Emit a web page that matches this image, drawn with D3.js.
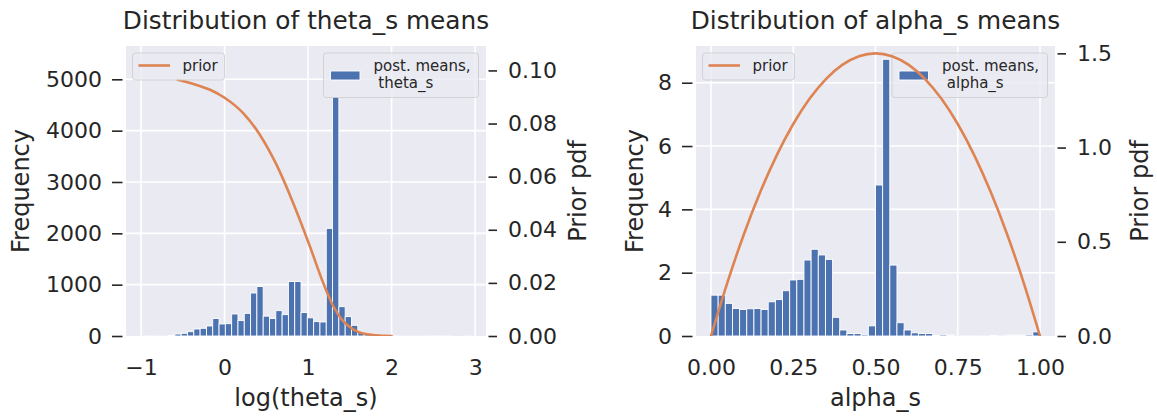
<!DOCTYPE html>
<html>
<head>
<meta charset="utf-8">
<script src="https://cdn.jsdelivr.net/npm/d3@7"></script>
<style>
  body { margin: 0; background: #ffffff; }
  svg { display: block; }
  text { font-family: "DejaVu Sans", sans-serif; fill: #262626; }
</style>
</head>
<body>
<svg id="chart" width="1157" height="418"></svg>
<script>
// ---- theta_s : histogram of posterior means on log scale (counts) ----
const thetaRange = [-0.972, 2.954];
const thetaCounts = [
  1, 1, 2, 5, 13, 39, 52, 84, 136, 150,
  195, 340, 234, 240, 429, 300, 441, 838, 965, 387,
  340, 494, 416, 1062, 1062, 458, 354, 280, 273, 2097,
  4660, 571, 377, 208, 65, 52, 39, 20, 12, 8,
  6, 4, 3, 2, 2, 1, 1, 1, 1, 0,
  0, 1
];
// prior pdf on the twin axis
const thetaPriorX   = [-0.56, -0.38, -0.18, 0.0, 0.22, 0.42, 0.62, 0.82, 1.02, 1.18, 1.30, 1.42, 1.54, 1.66, 1.82, 2.0];
const thetaPriorPdf = [0.0965, 0.0950, 0.0928, 0.0897, 0.0840, 0.0759, 0.0646, 0.0502, 0.0339, 0.0201, 0.0113, 0.0056, 0.0025, 0.0009, 0.0003, 0.0];

// ---- alpha_s : histogram of posterior means (density) ----
const alphaRange = [0, 1];
const alphaDensity = [
  1.29, 1.29, 1.03, 0.87, 0.84, 0.86, 0.87, 0.84, 1.08, 1.15,
  1.43, 1.77, 1.79, 2.40, 2.74, 2.56, 2.42, 0.59, 0.19, 0.08,
  0.08, 0.04, 0.32, 4.77, 8.74, 2.24, 0.42, 0.19, 0.10, 0.08,
  0.08, 0.02, 0.04, 0.03, 0.01, 0.01, 0.01, 0.01, 0.01, 0.02,
  0.01, 0.03, 0.03, 0.03, 0.04, 0.13
];
const alphaPriorX   = [0, 0.05, 0.1, 0.15, 0.2, 0.25, 0.3, 0.35, 0.4, 0.45, 0.5, 0.55, 0.6, 0.65, 0.7, 0.75, 0.8, 0.85, 0.9, 0.95, 1.0];
const alphaPriorPdf = [0, 0.285, 0.54, 0.765, 0.96, 1.125, 1.26, 1.365, 1.44, 1.485, 1.5, 1.485, 1.44, 1.365, 1.26, 1.125, 0.96, 0.765, 0.54, 0.285, 0];

// ---- tick labels ----
const thetaXTicks = [-1, 0, 1, 2, 3];
const thetaYTicks = [0, 1000, 2000, 3000, 4000, 5000];
const thetaPTicks = [0, 0.02, 0.04, 0.06, 0.08, 0.10];
const alphaXTicks = [0, 0.25, 0.5, 0.75, 1.0];
const alphaYTicks = [0, 2, 4, 6, 8];
const alphaPTicks = [0, 0.5, 1.0, 1.5];

const BG = "#EAEAF2", BAR = "#4C72B0", LINE = "#DD8452", INK = "#262626";
const svg = d3.select("#chart");

function drawPanel(cfg) {
  const L = cfg.left, R = cfg.right, T = 46, B = 336;
  const g = svg.append("g");
  const clipId = "clip-" + cfg.id;
  svg.append("defs").append("clipPath").attr("id", clipId)
    .append("rect").attr("x", L).attr("y", T).attr("width", R - L).attr("height", B - T);

  const x = d3.scaleLinear().domain(cfg.xDomain).range([L, R]);
  const y = d3.scaleLinear().domain([0, cfg.yMax]).range([B, T]);
  const yp = d3.scaleLinear().domain([0, cfg.pMax]).range([B, T]);

  g.append("rect").attr("x", L).attr("y", T).attr("width", R - L).attr("height", B - T).attr("fill", BG);

  // grid
  const grid = g.append("g").attr("stroke", "#ffffff").attr("stroke-width", 1.6);
  grid.selectAll("line.vx").data(cfg.xTicks).join("line")
    .attr("x1", d => x(d)).attr("x2", d => x(d)).attr("y1", T).attr("y2", B);
  grid.selectAll("line.hy").data(cfg.yTicks.filter(d => d > 0)).join("line")
    .attr("x1", L).attr("x2", R).attr("y1", d => y(d)).attr("y2", d => y(d));

  // histogram bars
  const n = cfg.values.length;
  const [lo, hi] = cfg.range;
  const bins = cfg.values.map((v, i) => ({ x0: lo + i * (hi - lo) / n, x1: lo + (i + 1) * (hi - lo) / n, v }));
  g.append("g").attr("clip-path", `url(#${clipId})`)
    .selectAll("rect").data(bins.filter(b => b.v > 0)).join("rect")
    .attr("x", b => x(b.x0)).attr("width", b => x(b.x1) - x(b.x0))
    .attr("y", b => y(b.v)).attr("height", b => B - y(b.v))
    .attr("fill", BAR).attr("stroke", "#ffffff").attr("stroke-width", 0.9);

  // legend for the histogram
  const lp = cfg.postLegend;
  const lg = g.append("g");
  lg.append("rect").attr("x", R - 7.5 - lp.w).attr("y", 53).attr("width", lp.w).attr("height", 44.5)
    .attr("rx", 3).attr("fill", BG).attr("fill-opacity", 0.8).attr("stroke", "#cccccc").attr("stroke-opacity", 0.8).attr("stroke-width", 1);
  lg.append("rect").attr("x", R - 7.5 - lp.w + 7).attr("y", 71).attr("width", 29.5).attr("height", 9)
    .attr("fill", BAR).attr("stroke", "#ffffff").attr("stroke-width", 0.9);
  lg.append("text").attr("x", R - 7.5 - lp.w + 50).attr("y", 70.5).attr("font-size", 15).text("post. means,");
  lg.append("text").attr("x", R - 7.5 - lp.w + 50).attr("y", 88).attr("font-size", 15)
    .attr("xml:space", "preserve").style("white-space", "pre").text(" " + cfg.name);

  // prior pdf on twin axis
  const line = d3.line().x((d, i) => x(cfg.priorX[i])).y(d => yp(d)).curve(d3.curveMonotoneX);
  g.append("path").attr("clip-path", `url(#${clipId})`).datum(cfg.priorPdf).attr("d", line)
    .attr("fill", "none").attr("stroke", LINE).attr("stroke-width", 2.6).attr("stroke-linecap", "round");

  // legend for the prior
  const pl = g.append("g");
  pl.append("rect").attr("x", L + 6.5).attr("y", 53).attr("width", 92).attr("height", 27)
    .attr("rx", 3).attr("fill", BG).attr("fill-opacity", 0.8).attr("stroke", "#cccccc").attr("stroke-opacity", 0.8).attr("stroke-width", 1);
  pl.append("line").attr("x1", L + 12.5).attr("x2", L + 44).attr("y1", 65.5).attr("y2", 65.5)
    .attr("stroke", LINE).attr("stroke-width", 2.6);
  pl.append("text").attr("x", L + 56.5).attr("y", 71).attr("font-size", 15).text("prior");

  // axes
  const yAxis = d3.axisLeft(y).tickValues(cfg.yTicks).tickFormat(cfg.yFmt).tickSize(10.5).tickPadding(10);
  const ya = g.append("g").attr("transform", `translate(${L - 3.5},0)`).call(yAxis);
  const pAxis = d3.axisRight(yp).tickValues(cfg.pTicks).tickFormat(cfg.pFmt).tickSize(8.5).tickPadding(11);
  const pa = g.append("g").attr("transform", `translate(${R + 2.5},0)`).call(pAxis);
  const xAxis = d3.axisBottom(x).tickValues(cfg.xTicks).tickFormat(cfg.xFmt).tickSize(0).tickPadding(23);
  const xa = g.append("g").attr("transform", `translate(0,${B})`).call(xAxis);
  [ya, pa, xa].forEach(a => {
    a.select(".domain").remove();
    a.attr("font-family", null).attr("font-size", null);
    a.selectAll("text").attr("font-size", 22).attr("fill", INK);
    a.selectAll("line").attr("stroke", INK).attr("stroke-width", 1.6);
  });

  // titles and labels
  g.append("text").attr("x", (L + R) / 2).attr("y", 29).attr("text-anchor", "middle").attr("font-size", 24.8).text(cfg.title);
  g.append("text").attr("x", (L + R) / 2).attr("y", 406).attr("text-anchor", "middle").attr("font-size", 24).text(cfg.xLabel);
  g.append("text").attr("transform", `translate(${cfg.yLabelX},${(T + B) / 2}) rotate(-90)`)
    .attr("text-anchor", "middle").attr("font-size", 24).text("Frequency");
  g.append("text").attr("transform", `translate(${cfg.pLabelX},${(T + B) / 2}) rotate(-90)`)
    .attr("text-anchor", "middle").attr("font-size", 24).text("Prior pdf");
}

drawPanel({
  id: "theta", name: "theta_s", left: 126, right: 486,
  xDomain: [-1.18, 3.13], yMax: 5649, pMax: 0.1092,
  range: thetaRange, values: thetaCounts,
  priorX: thetaPriorX, priorPdf: thetaPriorPdf,
  xTicks: thetaXTicks, yTicks: thetaYTicks, pTicks: thetaPTicks,
  xFmt: d => d3.format("d")(d).replace("-", "\u2212"), yFmt: d3.format("d"), pFmt: d3.format(".2f"),
  postLegend: { w: 155 },
  title: "Distribution of theta_s means", xLabel: "log(theta_s)", yLabelX: 28.5, pLabelX: 586
});

drawPanel({
  id: "alpha", name: "alpha_s", left: 696, right: 1055,
  xDomain: [-0.0456, 1.0456], yMax: 9.16, pMax: 1.539,
  range: alphaRange, values: alphaDensity,
  priorX: alphaPriorX, priorPdf: alphaPriorPdf,
  xTicks: alphaXTicks, yTicks: alphaYTicks, pTicks: alphaPTicks,
  xFmt: d3.format(".2f"), yFmt: d3.format("d"), pFmt: d3.format(".1f"),
  postLegend: { w: 155.5 },
  title: "Distribution of alpha_s means", xLabel: "alpha_s", yLabelX: 643, pLabelX: 1148
});
</script>
</body>
</html>
